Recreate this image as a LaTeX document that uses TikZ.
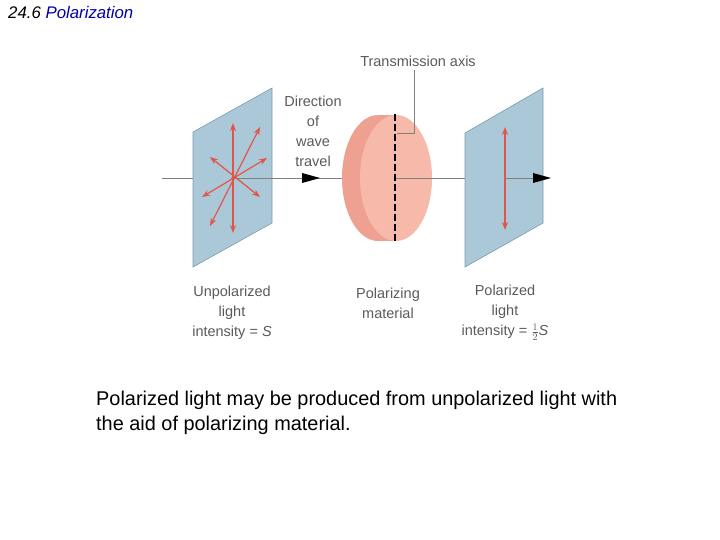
\documentclass[tikz,border=0pt]{standalone}
\usepackage{fontspec}
\setmainfont{Liberation Sans}
\usetikzlibrary{arrows.meta}
\definecolor{pane}{RGB}{170,200,215}
\definecolor{paneedge}{RGB}{120,155,175}
\definecolor{redarr}{RGB}{225,85,75}
\definecolor{disk}{RGB}{247,185,170}
\definecolor{diskdark}{RGB}{238,160,145}
\definecolor{lbl}{RGB}{90,90,90}
\definecolor{ttl}{RGB}{0,0,170}
\tikzset{
  panel/.style={fill=pane,draw=paneedge,line width=0.6pt},
  ray/.style={draw=redarr,line width=1.2pt,{Stealth[length=8pt,width=6pt]}-{Stealth[length=8pt,width=6pt]}},
  lab/.style={font=\fontsize{14.5}{20}\selectfont,text=lbl,align=center,inner sep=0pt},
  axisline/.style={draw=gray,line width=0.8pt}
}
\begin{document}
\begin{tikzpicture}[x=1pt,y=-1pt]
\useasboundingbox (0,0) rectangle (720,540);
\node[anchor=west,inner sep=0pt,font=\fontsize{16.8}{18}\selectfont\itshape] (title) at (8,12) {24.6 \textcolor{ttl}{Polarization}};
\coordinate (a0) at (162,178);
\draw[axisline] (a0) -- (193,178);
% panel 1
\draw[panel] (193,132) -- (272,88) -- (272,223) -- (193,267) -- cycle;
\coordinate (c1) at (233,178);
\draw[axisline] (c1) -- (362,178);
\draw[ray] (233,123) -- (233,233);
\draw[ray] (260,127) -- (210,226);
\draw[ray] (210,157) -- (260,197);
\draw[ray] (267,158) -- (202,197);
\fill[redarr] (c1) circle (1.8);
\fill[black] (302,173) -- (320,178) -- (302,183) -- cycle;
\node[lab] (dir) at (313,131) {Direction\\of\\wave\\travel};
% disk
\fill[diskdark] (378,178) ellipse (36 and 63);
\fill[diskdark] (378,115) rectangle (396,241);
\fill[disk] (396,178) ellipse (36 and 63);
\draw[white,line width=0.6pt] (378,115) arc (90:270:33 and 63);
\draw[axisline] (396,178) -- (465,178);
\draw[black,line width=2.4pt,dash pattern=on 7pt off 3pt] (395,114) -- (395,241);
\node[lab] (tax) at (418,61) {Transmission axis};
\draw[gray,line width=0.6pt] (414,70) -- (414,133) -- (397,133);
% panel 3
\draw[panel] (465,133) -- (543,88) -- (543,223) -- (465,267) -- cycle;
\draw[axisline] (505,178) -- (540,178);
\fill[black] (533,173) -- (551,178) -- (533,183) -- cycle;
\draw[ray] (505,127) -- (505,230);
% labels
\node[lab] (l1) at (232,313) {Unpolarized\\light\\intensity = \textit{S}};
\node[lab] (l2) at (388,303) {Polarizing\\material};
\node[lab] (l3) at (505,313) {Polarized\\light\\intensity = $\frac{1}{2}$\textit{S}};
\node[anchor=north west,align=left,inner sep=0pt,font=\fontsize{19.9}{25}\selectfont] (cap) at (96,391) {Polarized light may be produced from unpolarized light with\\the aid of polarizing material.};
\end{tikzpicture}
\end{document}
